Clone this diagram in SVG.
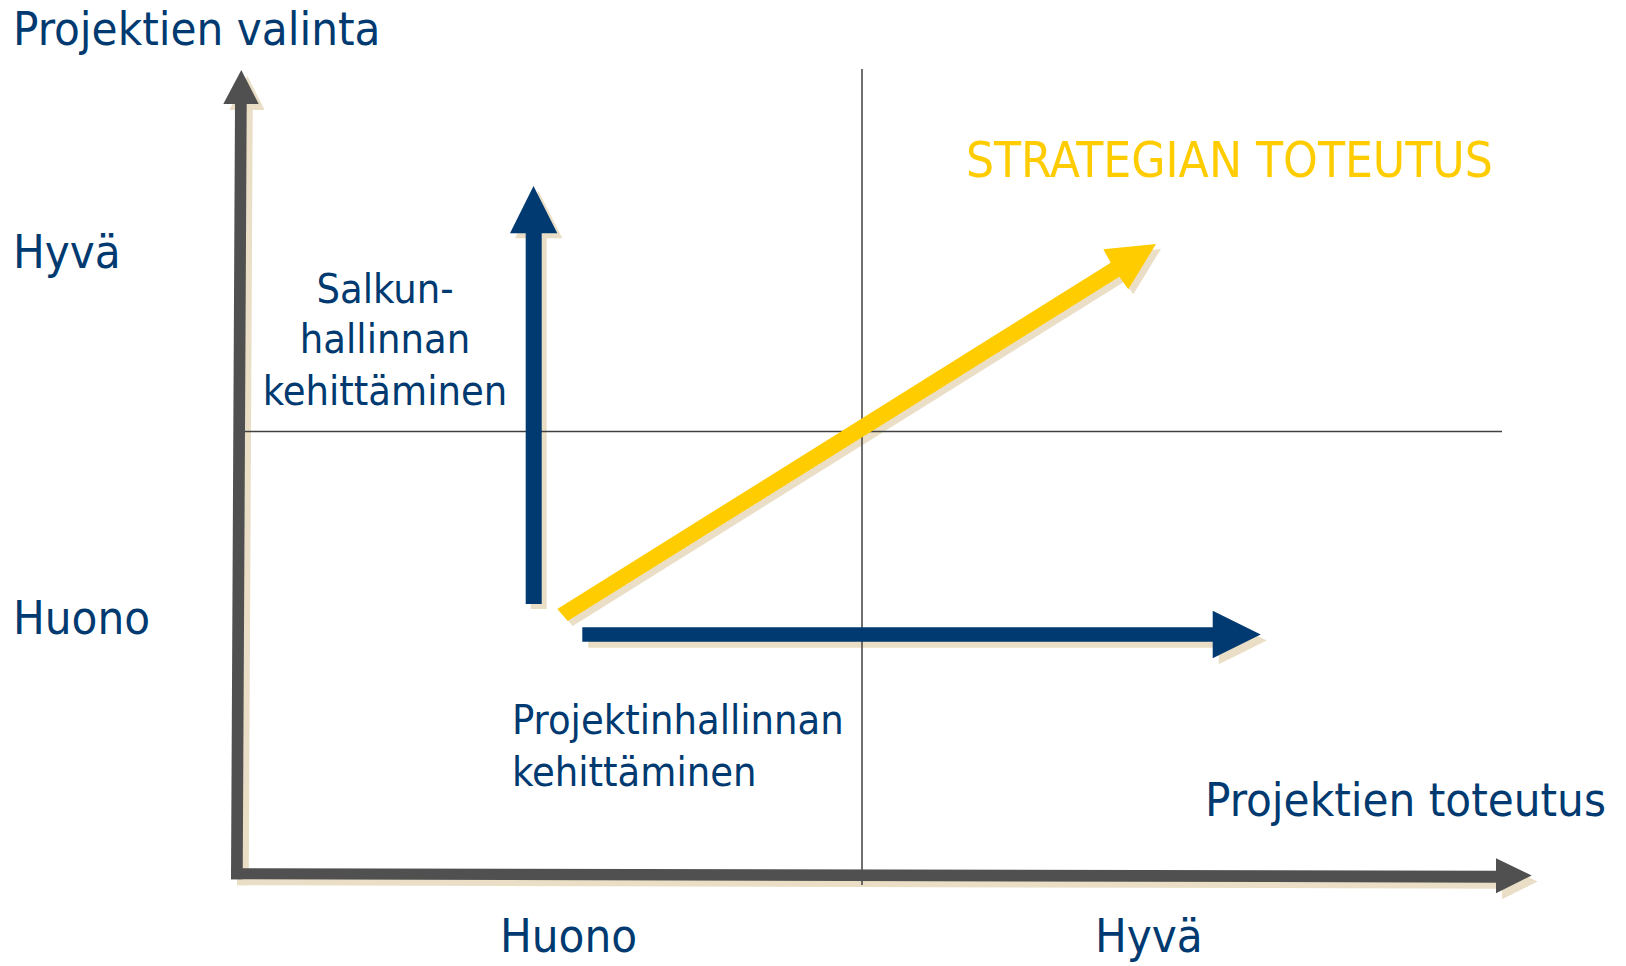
<svg xmlns="http://www.w3.org/2000/svg" width="1626" height="966" viewBox="0 0 1626 966">
  <style>
    .t { font-family: "DejaVu Sans Condensed", "DejaVu Sans", sans-serif; font-stretch: condensed; fill: #003a70; }
    .big { font-size: 47px; }
    .mid { font-size: 41.2px; }
    .y { fill: #ffcc00; font-size: 49.2px; }
    .shadow { fill: #eadfc6; }
    .grid { stroke: #404040; stroke-width: 1.5; fill: none; }
  </style>
  <defs>
    <polygon id="yaxis" points="231,879.3 235,104 223.3,104 241.3,70 258.7,104 246.7,104 242.7,879.3"/>
    <polygon id="xaxis" points="231,868.3 1496,870.7 1496,858.3 1531.7,875.5 1496,893.3 1496,882.7 231,879.3"/>
    <polygon id="varrow" points="525.7,604 525.7,233.3 510,233.3 533.5,186 557.3,233.3 541.7,233.3 541.7,604"/>
    <polygon id="harrow" points="582.3,627.3 1212.7,627.3 1212.7,610.7 1260.7,634.5 1212.7,658.3 1212.7,641.7 582.3,641.7"/>
    <polygon id="darrow" points="557.3,609 1110.7,262.7 1103.3,249.3 1156,244 1128.3,289.3 1119.3,276.7 567.7,621"/>
  </defs>

  <g id="shadows" class="shadow">
    <use href="#yaxis" transform="translate(6,6)"/>
    <use href="#xaxis" transform="translate(6,6)"/>
    <use href="#varrow" transform="translate(5,5)"/>
    <use href="#harrow" transform="translate(6,6)"/>
    <use href="#darrow" transform="translate(5,5)"/>
  </g>

  <g id="gridlines">
    <line class="grid" x1="862" y1="69" x2="862" y2="885"/>
    <line class="grid" x1="244" y1="431.5" x2="1502" y2="431.5"/>
  </g>

  <g id="connectors">
    <use href="#yaxis" fill="#505050"/>
    <use href="#xaxis" fill="#505050"/>
    <use href="#varrow" fill="#003a70"/>
    <use href="#harrow" fill="#003a70"/>
    <use href="#darrow" fill="#ffcc00"/>
  </g>

  <g id="axis-labels">
    <text class="t big" x="13" y="45">Projektien valinta</text>
    <text class="t big" x="1205" y="816">Projektien toteutus</text>
  </g>
  <g id="scale-labels">
    <text class="t big" x="13" y="268">Hyvä</text>
    <text class="t big" x="13" y="634">Huono</text>
    <text class="t big" x="500" y="952">Huono</text>
    <text class="t big" x="1095" y="952">Hyvä</text>
  </g>
  <g id="label-salkku">
    <text class="t mid" text-anchor="middle" x="385" y="303">Salkun-</text>
    <text class="t mid" text-anchor="middle" x="385" y="353">hallinnan</text>
    <text class="t mid" text-anchor="middle" x="385" y="405">kehittäminen</text>
  </g>
  <g id="label-projekti">
    <text class="t mid" x="512" y="734">Projektinhallinnan</text>
    <text class="t mid" x="512" y="786">kehittäminen</text>
  </g>
  <g id="label-strategia">
    <text class="t y" x="966" y="176.5">STRATEGIAN TOTEUTUS</text>
  </g>
</svg>
